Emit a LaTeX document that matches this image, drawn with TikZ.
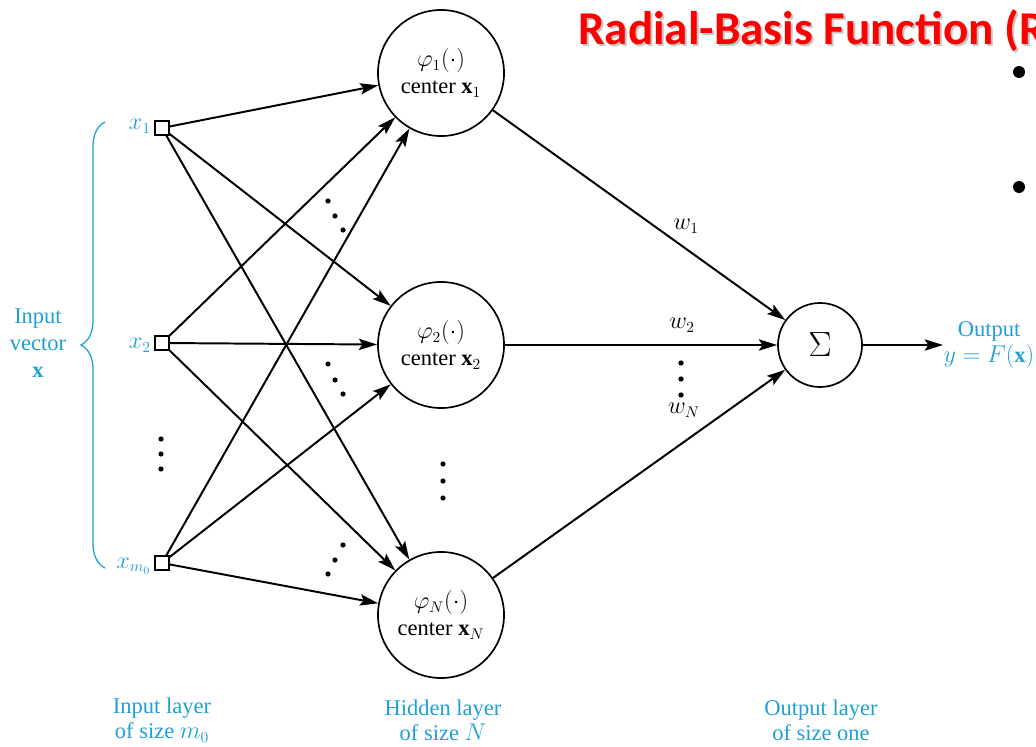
\documentclass[tikz,border=0pt]{standalone}
\usepackage{fontspec}
\setmainfont{Liberation Serif}
\newfontfamily\titlefont{Carlito}
\usetikzlibrary{arrows.meta,decorations.pathreplacing}
\definecolor{lbl}{RGB}{30,160,215}
\definecolor{ttl}{RGB}{255,0,0}

\begin{document}
\begin{tikzpicture}[x=0.025cm,y=-0.025cm,
  every node/.style={font=\fontsize{16}{19}\selectfont},
  hid/.style={circle,draw,line width=1.2pt,minimum size=3.15cm,inner sep=0pt,align=center},
  sumnode/.style={circle,draw,line width=1.2pt,minimum size=2.1cm,inner sep=0pt},
  inbox/.style={draw,line width=1.1pt,fill=white,minimum size=0.34cm,inner sep=0pt},
  link/.style={line width=1.4pt,-{Stealth[length=13pt,width=8pt,inset=2.5pt]}},
  cyantext/.style={text=lbl,align=center},
  wlabel/.style={inner sep=1pt}]
\useasboundingbox (0,0) rectangle (1036,747);
\clip (0,0) rectangle (1036,747);

% slide title and bullets
\node[anchor=base west,inner sep=0pt,text=black!45,opacity=0.5,
      font=\titlefont\bfseries\fontsize{33.5}{38}\selectfont] (titleshadow) at (580,47) {Radial-Basis Function (R};
\node[anchor=base west,inner sep=0pt,text=ttl,
      font=\titlefont\bfseries\fontsize{33.5}{38}\selectfont] (title) at (578,45) {Radial-Basis Function (R};
\fill (1019,72) circle (0.15cm);
\fill (1019,187) circle (0.15cm);

% input layer
\node[inbox] (i1) at (162,128) {};
\node[inbox] (i2) at (162,343) {};
\node[inbox] (im) at (162,563) {};
\node[anchor=east,text=lbl,inner sep=0pt] (l1) at (151,126) {$x_1$};
\node[anchor=east,text=lbl,inner sep=0pt] (l2) at (151,345) {$x_2$};
\node[anchor=east,text=lbl,inner sep=0pt] (lm) at (151,566) {$x_{m_0}$};
\foreach \yy in {439,454,469} \fill (161,\yy) circle (0.065cm);

\draw[lbl,line width=0.9pt,decorate,decoration={brace,amplitude=0.6cm}] (105,568) -- (105,122);
\node[cyantext] (invec) at (38,343) {Input\\vector\\$\mathbf{x}$};

% hidden layer
\node[hid] (h1) at (441,73) {$\varphi_1(\cdot)$\\center $\mathbf{x}_1$};
\node[hid] (h2) at (441,345) {$\varphi_2(\cdot)$\\center $\mathbf{x}_2$};
\node[hid] (hN) at (441,615) {$\varphi_N(\cdot)$\\center $\mathbf{x}_N$};
\foreach \yy in {464,481,498} \fill (443,\yy) circle (0.065cm);

% output layer
\node[sumnode] (s) at (820,345) {\fontsize{24}{26}\selectfont$\Sigma$};
\coordinate (out) at (943,345);
\node[cyantext] (outlbl) at (989,345) {Output\\$y\mskip5mu{=}\mskip5mu F(\mathbf{x})$};

% input-to-hidden connections
\foreach \a in {i1,i2,im}
  \foreach \b in {h1,h2,hN}
    \draw[link] (\a) -- (\b);

% hidden-to-output connections
\draw[link] (h1) -- (s);
\draw[link] (h2) -- (s);
\draw[link] (hN) -- (s);
\draw[link] (s) -- (out);

% weight labels
\node[wlabel] (w1) at (686,226) {$w_1$};
\node[wlabel] (w2) at (682,325) {$w_2$};
\node[wlabel] (wN) at (684,410) {$w_N$};
\foreach \yy in {363,379,395} \fill (681,\yy) circle (0.065cm);

% ellipses between fan-in lines
\foreach \px/\py in {328/201,335/216,343/230,328/364,335/380,343/394,343/545,335/560,328/574}
  \fill (\px,\py) circle (0.065cm);

% layer captions
\node[cyantext,font=\fontsize{16}{18}\selectfont] (cap1) at (162,720) {Input layer\\of size $m_0$};
\node[cyantext,font=\fontsize{16}{18}\selectfont] (cap2) at (443,720) {Hidden layer\\of size $N$};
\node[cyantext,font=\fontsize{16}{18}\selectfont] (cap3) at (821,720) {Output layer\\of size one};
\end{tikzpicture}
\end{document}
